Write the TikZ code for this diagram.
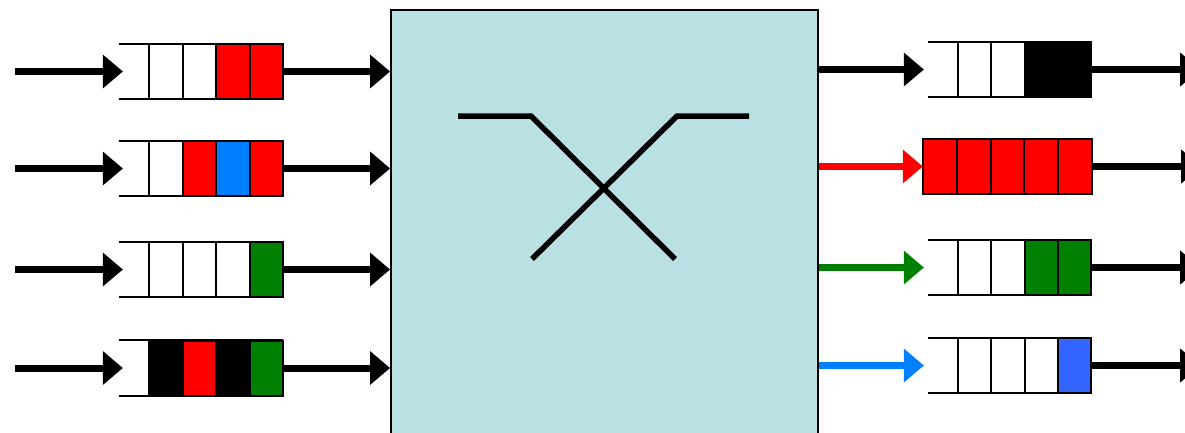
\documentclass[tikz,border=0pt]{standalone}
\usetikzlibrary{arrows.meta}
\definecolor{swfill}{HTML}{B9E0E3}
\definecolor{qred}{HTML}{FF0000}
\definecolor{qblue}{HTML}{0080FF}
\definecolor{qgreen}{HTML}{008000}
\definecolor{qdblue}{HTML}{3366FF}
\begin{document}
\begin{tikzpicture}[x=1pt,y=-1pt,
  arr/.style={line width=7pt,-{Triangle[length=20pt,width=34pt,line width=0pt]}},
  qbox/.style={rectangle,inner sep=0pt,minimum width=164pt,minimum height=55pt},
  cellbox/.style={draw=black,line width=2pt},
  qline/.style={draw=black,line width=2pt},
  xbar/.style={line width=5.5pt}]
\clip (0,0) rectangle (1185,432);
\fill[white] (0,0) rectangle (1185,432);
% switch fabric
\node[draw,line width=2.2pt,fill=swfill,rectangle,minimum width=427pt,minimum height=460pt,inner sep=0pt,anchor=north west] (sw) at (390,9) {};
\coordinate (a1) at (458,116);
\coordinate (a2) at (531,116);
\coordinate (a3) at (675,259);
\coordinate (b1) at (749,116);
\coordinate (b2) at (677,116);
\coordinate (b3) at (532,259);
\draw[xbar] (a1) -- (a2) -- (a3);
\draw[xbar] (b1) -- (b2) -- (b3);
% left queues
\node[qbox] (L1) at (201,71.5) {};
\node[qbox] (L2) at (201,168.5) {};
\node[qbox] (L3) at (201,269.5) {};
\node[qbox] (L4) at (201,368) {};
\foreach \q in {L1,L2,L3,L4}{
  \draw[qline] (\q.north west) -- (\q.north east);
  \draw[qline] (\q.south west) -- (\q.south east);
}
\foreach \c [count=\i from 0] in {white,white,qred,qred}
  \draw[cellbox,fill=\c] ({149+\i*33.5},44) rectangle ++(33.5,55);
\foreach \c [count=\i from 0] in {white,qred,qblue,qred}
  \draw[cellbox,fill=\c] ({149+\i*33.5},141) rectangle ++(33.5,55);
\foreach \c [count=\i from 0] in {white,white,white,qgreen}
  \draw[cellbox,fill=\c] ({149+\i*33.5},242) rectangle ++(33.5,55);
\foreach \c [count=\i from 0] in {black,qred,black,qgreen}
  \draw[cellbox,fill=\c] ({149+\i*33.5},340.5) rectangle ++(33.5,55);
\foreach \q/\y in {L1/71.5,L2/168.5,L3/269.5,L4/368}{
  \coordinate (\q in) at (15,\y);
  \draw[arr] (\q in) -- ([xshift=4pt]\q.west);
  \draw[arr] (\q.east) -- (\q.east -| sw.west);
}
% right queues
\node[qbox,minimum width=163pt] (R1) at (1009.5,69.5) {};
\node[qbox,minimum width=169pt] (R2) at (1007.5,166.5) {};
\node[qbox,minimum width=163pt] (R3) at (1009.5,267.5) {};
\node[qbox,minimum width=163pt] (R4) at (1009.5,365.5) {};
\foreach \q in {R1,R3,R4}{
  \draw[qline] (\q.north west) -- (\q.north east);
  \draw[qline] (\q.south west) -- (\q.south east);
}
\foreach \c [count=\i from 0] in {white,white,black,black}
  \draw[cellbox,fill=\c] ({957.7+\i*33.4},42) rectangle ++(33.4,55);
\foreach \c [count=\i from 0] in {qred,qred,qred,qred,qred}
  \draw[cellbox,fill=\c] ({923+\i*33.8},139) rectangle ++(33.8,55);
\foreach \c [count=\i from 0] in {white,white,qgreen,qgreen}
  \draw[cellbox,fill=\c] ({957.7+\i*33.4},240) rectangle ++(33.4,55);
\foreach \c [count=\i from 0] in {white,white,white,qdblue}
  \draw[cellbox,fill=\c] ({957.7+\i*33.4},338) rectangle ++(33.4,55);
\draw[arr] (R1.west -| sw.east) -- ([xshift=-4pt]R1.west);
\draw[arr,qred] (R2.west -| sw.east) -- (R2.west);
\draw[arr,qgreen] (R3.west -| sw.east) -- ([xshift=-4pt]R3.west);
\draw[arr,qblue] (R4.west -| sw.east) -- ([xshift=-4pt]R4.west);
\foreach \q in {R1,R2,R3,R4}{
  \coordinate (\q out) at ([xshift=1200pt-1091pt]\q.east);
  \draw[arr] (\q.east) -- (\q out);
}
\end{tikzpicture}
\end{document}
